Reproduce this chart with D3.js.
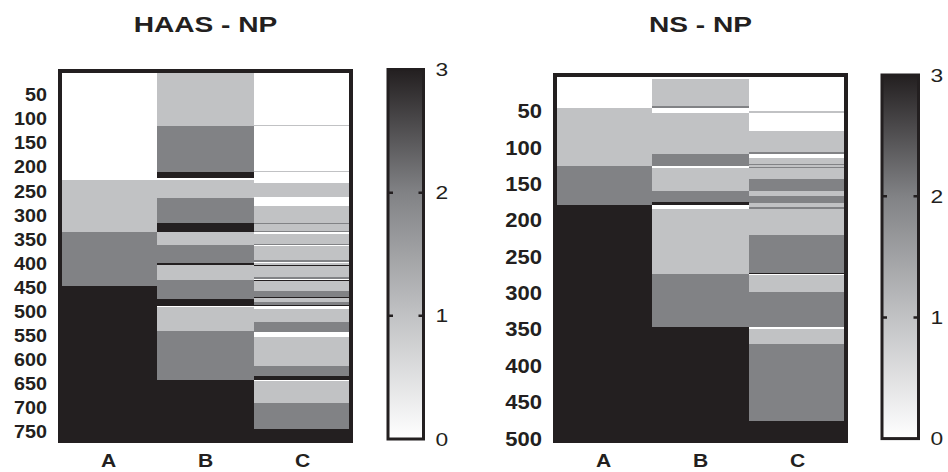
<!DOCTYPE html>
<html>
<head>
<meta charset="utf-8">
<script src="https://cdn.jsdelivr.net/npm/d3@7/dist/d3.min.js"></script>
<style>
    body { margin: 0; background: #fff; }
    text { font-family: "Liberation Sans", Arial, sans-serif; fill: #231f20; }
</style>
</head>
<body>
<div id="chart"></div>
<script>
// levels 0..3 and their grays
var levels = [0, 1, 2, 3];
var levelColors = ["#ffffff", "#c1c2c4", "#818285", "#231f20"];
var columns = ["A", "B", "C"];

// HAAS - NP : [from, to, level]
var haasTicks = [50, 100, 150, 200, 250, 300, 350, 400, 450, 500, 550, 600, 650, 700, 750];
var haasMax = 768;
var haasA = [[0,227,0],[227,335,1],[335,446,2],[446,768,3]];
var haasB = [[0,114,1],[114,210,2],[210,223,3],[223,226,0],[226,263,1],[263,315,2],[315,334,3],
    [334,361,1],[361,398,2],[398,403,3],[403,434,1],[434,474,2],[474,488,3],[488,490,0],
    [490,540,1],[540,642,2],[642,768,3]];
var haasC = [[0,113,0],[113,115,1],[115,208,0],[208,210,1],[210,232,0],[232,261,1],[261,281,0],
    [281,316,1],[316,318,2],[318,332,1],[332,335,2],[335,338,0],[338,359,1],[359,362,2],
    [362,364,0],[364,392,1],[392,396,2],[396,399,0],[399,403,1],[403,405,3],[405,428,1],
    [428,432,2],[432,434,0],[434,435,3],[435,457,1],[457,469,2],[469,471,3],[471,480,1],
    [480,485,2],[485,488,3],[488,494,0],[494,522,1],[522,542,2],[542,552,0],[552,612,1],
    [612,634,2],[634,641,3],[641,644,0],[644,690,1],[690,743,2],[743,768,3]];

// NS - NP
var nsTicks = [50, 100, 150, 200, 250, 300, 350, 400, 450, 500];
var nsMax = 503;
var nsA = [[0,46,0],[46,125,1],[125,178,2],[178,503,3]];
var nsB = [[0,6,0],[6,42,1],[42,46,2],[46,52,0],[52,108,1],[108,125,2],[125,128,0],[128,159,1],
    [159,175,2],[175,178,3],[178,184,0],[184,274,1],[274,347,2],[347,503,3]];
var nsC = [[0,50,0],[50,52,1],[52,77,0],[77,106,1],[106,108,2],[108,114,0],[114,122,1],
    [122,124,2],[124,126,1],[126,128,2],[128,143,1],[143,159,2],[159,166,1],[166,176,2],
    [176,182,1],[182,184,2],[184,220,1],[220,272,2],[272,273,3],[273,275,0],[275,298,1],
    [298,346,2],[346,347,3],[347,349,0],[349,370,1],[370,476,2],[476,503,3]];

var colorTicks = [0, 1, 2, 3];


// the original figure's lettering is a bit wider than Arial
function stretch(sel, x, sx) {
    sel.attr("x", 0)
        .attr("transform", "translate(" + x + ",0) scale(" + sx + ",1)");
}

BandVis = function(_svg, _id, _title, _data, _ticks, _max, _box, _bar, _labelSize) {
    this.svg = _svg;
    this.id = _id;
    this.title = _title;
    this.data = _data;
    this.ticks = _ticks;
    this.max = _max;
    this.box = _box;
    this.bar = _bar;
    this.labelSize = _labelSize;

    this.initVis();
}

BandVis.prototype.initVis = function() {
    var vis = this;

    vis.width = vis.box.right - vis.box.left;
    vis.height = vis.box.bottom - vis.box.top;

    vis.color = d3.scaleLinear().domain(levels).range(levelColors);

    vis.x = d3.scaleBand().domain(columns).range([0, vis.width]);
    vis.y = d3.scaleLinear().domain([0, vis.max]).range([0, vis.height]);

    vis.g = vis.svg.append("g")
        .attr("transform", "translate(" + vis.box.left + "," + vis.box.top + ")");

    // one group per column, rect per band
    var cols = vis.g.selectAll(".col")
        .data(columns.map(function(c, i) { return {name: c, bands: vis.data[i]}; }))
        .enter().append("g")
        .attr("class", "col");

    cols.selectAll("rect")
        .data(function(d) { return d.bands.map(function(b) { return {col: d.name, b: b}; }); })
        .enter().append("rect")
        .attr("shape-rendering", "crispEdges")
        .attr("x", function(d) { return vis.x(d.col); })
        .attr("width", vis.x.bandwidth())
        .attr("y", function(d) { return vis.y(d.b[0]); })
        .attr("height", function(d) { return Math.max(1, vis.y(d.b[1]) - vis.y(d.b[0])); })
        .attr("fill", function(d) { return vis.color(d.b[2]); });

    // frame
    vis.g.append("rect")
        .attr("width", vis.width)
        .attr("height", vis.height)
        .attr("fill", "none")
        .attr("stroke", "#231f20")
        .attr("stroke-width", 4);

    var yAxis = vis.g.append("g")
        .call(d3.axisLeft(vis.y).tickValues(vis.ticks).tickSize(0));
    yAxis.select(".domain").remove();
    yAxis.selectAll("text")
        .attr("font-size", vis.labelSize)
        .attr("font-weight", "bold")
        .attr("font-family", "Liberation Sans, Arial, sans-serif")
        .attr("fill", "#231f20")
        .call(stretch, -13, 1.13);

    var xAxis = vis.g.append("g")
        .attr("transform", "translate(0," + vis.height + ")")
        .call(d3.axisBottom(vis.x).tickSize(0).tickPadding(13));
    xAxis.select(".domain").remove();
    xAxis.selectAll("text")
        .attr("font-size", 18.5)
        .attr("font-weight", "bold")
        .attr("font-family", "Liberation Sans, Arial, sans-serif")
        .attr("fill", "#231f20")
        .call(stretch, 0, 1.14);

    vis.svg.append("g")
        .attr("transform", "translate(" + (vis.box.left + vis.width / 2) + ",32)")
        .append("text")
        .attr("text-anchor", "middle")
        .attr("font-size", 22.5)
        .attr("font-weight", "bold")
        .text(vis.title)
        .call(stretch, 0, 1.25);

    vis.drawColorbar();
}

BandVis.prototype.drawColorbar = function() {
    var vis = this;
    var bar = vis.bar;

    var grad = vis.svg.append("defs").append("linearGradient")
        .attr("id", "grad-" + vis.id)
        .attr("x1", 0).attr("y1", 1)
        .attr("x2", 0).attr("y2", 0);
    grad.selectAll("stop")
        .data(levels)
        .enter().append("stop")
        .attr("offset", function(d) { return d / 3; })
        .attr("stop-color", function(d) { return vis.color(d); });

    var cy = d3.scaleLinear().domain([0, 3]).range([bar.bottom, bar.top]);

    vis.svg.append("rect")
        .attr("x", bar.left)
        .attr("y", bar.top)
        .attr("width", bar.right - bar.left)
        .attr("height", bar.bottom - bar.top)
        .attr("fill", "url(#grad-" + vis.id + ")")
        .attr("stroke", "#231f20")
        .attr("stroke-width", 3);

    // little inside ticks on both sides
    var inner = colorTicks.filter(function(t) { return t > 0 && t < 3; });
    inner.forEach(function(t) {
        vis.svg.append("path")
            .attr("d", "M" + bar.left + "," + cy(t) + "h5M" + bar.right + "," + cy(t) + "h-5")
            .attr("stroke", "#231f20")
            .attr("stroke-width", 2.5);
    });

    vis.svg.selectAll(".cb-" + vis.id)
        .data(colorTicks)
        .enter().append("g")
        .attr("class", "cb-" + vis.id)
        .attr("transform", function(d) { return "translate(0," + cy(d) + ")"; })
        .append("text")
        .attr("dy", "0.35em")
        .attr("font-size", 19)
        .text(function(d) { return d; })
        .call(stretch, bar.right + 12, 1.2);
}


var svg = d3.select("#chart").append("svg")
    .attr("width", 948)
    .attr("height", 472);

var haas = new BandVis(svg, "haas", "HAAS - NP", [haasA, haasB, haasC], haasTicks, haasMax,
    {left: 60, right: 351, top: 71, bottom: 441},
    {left: 388, right: 423.5, top: 69.5, bottom: 439}, 17.5);

var ns = new BandVis(svg, "ns", "NS - NP", [nsA, nsB, nsC], nsTicks, nsMax,
    {left: 555, right: 846, top: 75, bottom: 441},
    {left: 882, right: 918.5, top: 75, bottom: 438.6}, 19.5);
</script>
</body>
</html>
